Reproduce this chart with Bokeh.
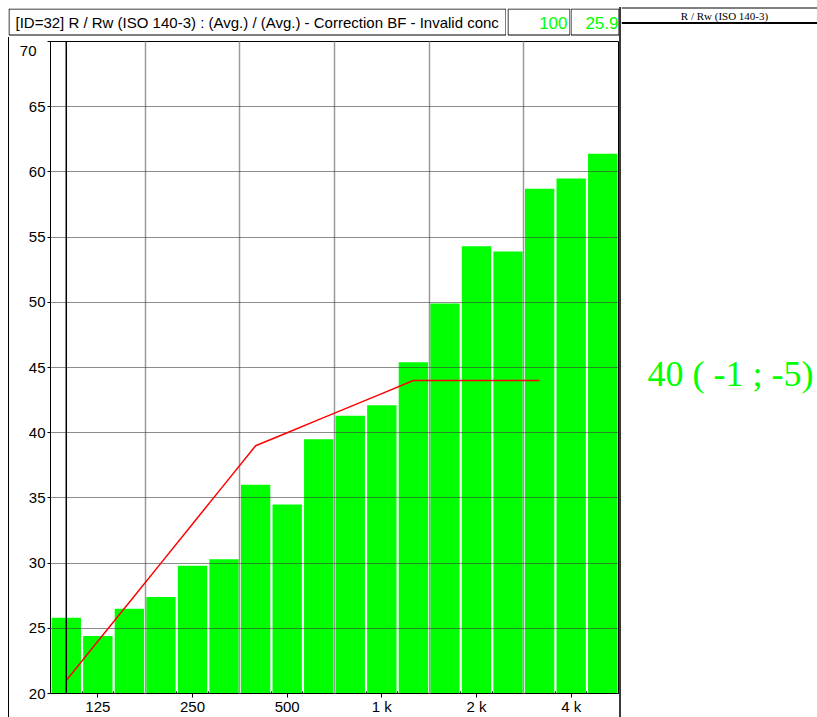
from bokeh.plotting import figure
from bokeh.models import Range1d, FixedTicker, Span, Spacer, LinearAxis
from bokeh.layouts import row, column
from bokeh.embed import file_html
from bokeh.resources import INLINE
from bokeh.core.properties import value

# ---------------- data ----------------
bands = ["100", "125", "160", "200", "250", "315", "400", "500", "630", "800",
         "1k", "1.25k", "1.6k", "2k", "2.5k", "3.15k", "4k", "5k"]
R_values = [25.8, 24.4, 26.5, 27.4, 29.8, 30.3, 36.0, 34.5, 39.5, 41.3,
            42.1, 45.4, 49.9, 54.3, 53.9, 58.7, 59.5, 61.4]
ref_bands = bands[:16]
ref_curve = [21, 24, 27, 30, 33, 36, 39, 40, 41, 42, 43, 44, 44, 44, 44, 44]
x_tick_bands = ["125", "250", "500", "1k", "2k", "4k"]
x_tick_labels = ["125", "250", "500", "1 k", "2 k", "4 k"]
y_ticks = [20, 25, 30, 35, 40, 45, 50, 55, 60, 65, 70]
marker_band = "100"

header_text = "[ID=32]  R / Rw (ISO 140-3) :  (Avg.) /  (Avg.) - Correction BF - Invalid conc"
cell_1 = "100"
cell_2 = "25.9"
side_title = "R / Rw (ISO 140-3)"
rating_text = "40 ( -1 ;  -5)"

GREEN = "#00ff00"
NARROW = value("Liberation Sans Narrow, Arial Narrow, Liberation Sans")
SANS_S = "Liberation Sans"
SERIF = value("Liberation Serif")

idx = list(range(len(bands)))
ref_idx = [bands.index(b) for b in ref_bands]
tick_idx = [bands.index(b) for b in x_tick_bands]


def blank(w, h):
    f = figure(width=w, height=h, x_range=Range1d(0, w), y_range=Range1d(h, 0),
               output_backend="svg", toolbar_location=None, min_border=0,
               x_axis_type=None, y_axis_type=None)
    f.grid.visible = False
    f.outline_line_color = None
    f.background_fill_color = "white"
    f.border_fill_color = "white"
    return f


def cell(w, h):
    f = blank(w, h)
    f.quad(left=[0.5], right=[w - 0.5], top=[0.5], bottom=[h - 2.5],
           fill_color=None, line_color="black", line_width=1)
    return f


def white(w, h):
    return Spacer(width=w, height=h, styles={"background-color": "white"})


# ---------------- header ----------------
HH = 29
hdr_text = cell(498, HH)
hdr_text.text(x=[7], y=[14], text=[header_text], text_font=NARROW,
              text_font_size="15px", text_baseline="middle", text_align="left",
              text_color="black")

hdr_n1 = cell(63, HH)
hdr_n1.text(x=[60], y=[14], text=[cell_1], text_font=NARROW, text_font_size="17px",
            text_baseline="middle", text_align="right", text_color=GREEN)
hdr_n2 = cell(49, HH)
hdr_n2.text(x=[48], y=[14], text=[cell_2], text_font=NARROW, text_font_size="17px",
            text_baseline="middle", text_align="right", text_color=GREEN)

# ---------------- main chart ----------------
MH = 717 - 8 - HH
p = figure(width=610, height=MH, x_range=Range1d(-0.5, len(bands) - 0.5),
           y_range=Range1d(y_ticks[0], y_ticks[-1]), output_backend="svg",
           toolbar_location=None, min_border_left=41, min_border_right=1,
           min_border_top=4, min_border_bottom=22)
p.background_fill_color = "white"
p.border_fill_color = "white"
p.outline_line_color = "black"

p.vbar(x=idx, top=R_values, bottom=y_ticks[0], width=0.93,
       fill_color=GREEN, line_color=None)

marker = Span(location=bands.index(marker_band), dimension="height",
              line_color="black", line_width=1.5, level="overlay")
p.add_layout(marker)

ref_line = p.line(x=ref_idx, y=ref_curve, line_color="#ff0000", line_width=1.5)
ref_line.level = "overlay"

# axes
bounds = [i - 0.5 for i in range(len(bands) + 1)]
p.xaxis.ticker = FixedTicker(ticks=tick_idx, minor_ticks=bounds)
p.xaxis.major_label_overrides = {i: lab for i, lab in zip(tick_idx, x_tick_labels)}
p.xaxis.major_tick_in = 0
p.xaxis.major_tick_out = 4
p.xaxis.minor_tick_in = 2
p.xaxis.minor_tick_out = 0
p.xaxis.major_label_standoff = 0
p.xaxis.major_label_text_font = SANS_S
p.xaxis.major_label_text_font_size = "15px"
p.xaxis.major_label_text_color = "black"
p.xaxis.axis_line_color = "black"

p.yaxis.ticker = FixedTicker(ticks=y_ticks)
p.yaxis.major_label_overrides = {y_ticks[-1]: ""}
p.yaxis.major_tick_in = 0
p.yaxis.major_tick_out = 3
p.yaxis.minor_tick_line_color = None
p.yaxis.major_label_standoff = 2
p.yaxis.major_label_text_font = SANS_S
p.yaxis.major_label_text_font_size = "15px"
p.yaxis.major_label_text_color = "black"
p.yaxis.axis_line_color = "black"

# the top label (70) is drawn just below its tick, as in the original:
# a label-only axis on a range nudged by 0.7 units
nudge = 0.7
p.extra_y_ranges = {"top_label": Range1d(start=y_ticks[0] + nudge, end=y_ticks[-1] + nudge)}
top_axis = LinearAxis(y_range_name="top_label", ticker=FixedTicker(ticks=y_ticks[-1:]),
                      axis_line_color=None, major_tick_line_color=None,
                      minor_tick_line_color=None, major_label_standoff=-17,
                      major_label_text_font=SANS_S, major_label_text_font_size="15px",
                      major_label_text_color="black")
p.add_layout(top_axis, "left")

# grids drawn over the bars
p.xgrid.ticker = FixedTicker(ticks=[bounds[k] for k in (3, 6, 9, 12, 15)])
p.xgrid.grid_line_color = "#9a9a9a"
p.xgrid.grid_line_width = 1.5
p.xgrid.level = "annotation"
p.ygrid.ticker = FixedTicker(ticks=y_ticks)
p.ygrid.grid_line_color = "#404040"
p.ygrid.grid_line_alpha = 0.6
p.ygrid.grid_line_width = 1
p.ygrid.level = "annotation"

left_line = Spacer(width=1, height=MH, styles={"background-color": "black"})

# ---------------- right panel ----------------
side = blank(196, 717)
side.segment(x0=[0], x1=[196], y0=[7.5], y1=[7.5], line_color="black", line_width=1)
side.text(x=[103], y=[15], text=[side_title], text_font=SERIF, text_font_size="11px",
          text_baseline="middle", text_align="center", text_color="black")
side.segment(x0=[0], x1=[196], y0=[22.5], y1=[22.5], line_color="black", line_width=2)
side.text(x=[26], y=[373], text=[rating_text], text_font=SERIF, text_font_size="36px",
          text_baseline="alphabetic", text_align="left", text_color=GREEN)

divider = column(white(2, 7), Spacer(width=2, height=710, styles={"background-color": "#3a3a3a"}))

layout = row(
    white(8, 717),
    column(white(611, 8),
           row(hdr_text, white(1, HH), hdr_n1, hdr_n2),
           row(left_line, p)),
    divider,
    side,
)

open("out.html", "w").write(file_html(layout, INLINE))
